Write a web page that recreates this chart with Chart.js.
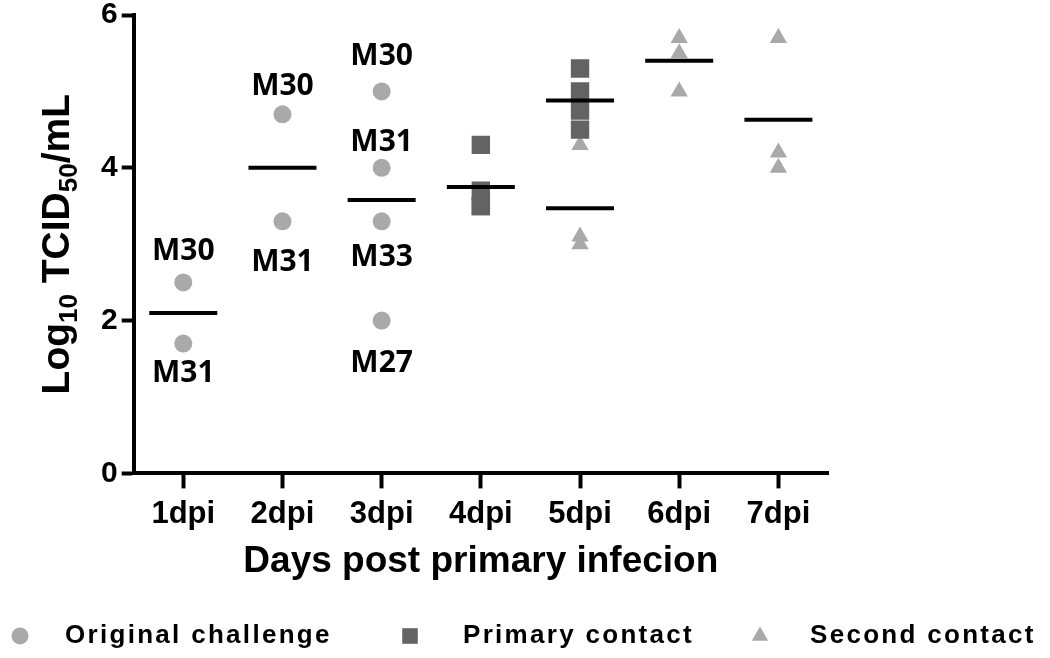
<!DOCTYPE html>
<html><head><meta charset="utf-8">
<script src="https://cdn.jsdelivr.net/npm/chart.js@4/dist/chart.umd.min.js"></script>
<style>html,body{margin:0;padding:0;background:#fff}#wrap{width:1050px;height:658px;position:relative}</style>
</head><body><div id="wrap"><canvas id="c"></canvas></div>
<script>
// ---- data ----
const categories = ['1dpi','2dpi','3dpi','4dpi','5dpi','6dpi','7dpi'];
const yTickValues = [0, 2, 4, 6];
const seriesNames = ['Original challenge', 'Primary contact', 'Second contact'];

const originalDays   = ['1dpi','1dpi','2dpi','2dpi','3dpi','3dpi','3dpi','3dpi'];
const originalValues = [2.5, 1.7, 4.7, 3.3, 5.0, 4.0, 3.3, 2.0];
const originalIds    = ['M30','M31','M30','M31','M30','M31','M33','M27'];

const primaryDays   = ['4dpi','4dpi','4dpi','4dpi','5dpi','5dpi','5dpi','5dpi'];
const primaryValues = [4.3, 3.7, 3.5, 3.5, 5.3, 5.0, 4.75, 4.5];

const secondDays   = ['5dpi','5dpi','5dpi','6dpi','6dpi','6dpi','7dpi','7dpi','7dpi'];
const secondValues = [4.3, 3.1, 3.0, 5.7, 5.5, 5.0, 5.7, 4.2, 4.0];

const meanDays   = ['1dpi','2dpi','3dpi','4dpi','5dpi','5dpi','6dpi','7dpi'];
const meanValues = [2.1, 4.0, 3.58, 3.75, 4.88, 3.47, 5.4, 4.63];

const xTitle = 'Days post primary infecion';

// ---- styling (not data) ----
const idLabelOffsets = [-31, 30, -28, 41, -35, -25, 36, 43];
const lightGrey = '#a9a9a9';
const darkGrey = '#636363';
const FONT = '"Liberation Sans", Arial, sans-serif';

function pts(days, vals) { return days.map((d, i) => ({x: d, y: vals[i]})); }

const datasets = [
  { label: 'mean', data: pts(meanDays, meanValues), pointStyle: 'line', pointRadius: 34,
    borderColor: '#000', backgroundColor: '#000', pointBorderWidth: 4, order: 0 },
  { label: seriesNames[0], data: pts(originalDays, originalValues), pointStyle: 'circle', pointRadius: 9,
    backgroundColor: lightGrey, borderColor: lightGrey, pointBorderWidth: 0, order: 1 },
  { label: seriesNames[1], data: pts(primaryDays, primaryValues), pointStyle: 'rect', pointRadius: 13,
    backgroundColor: darkGrey, borderColor: darkGrey, pointBorderWidth: 0, order: 2 },
  { label: seriesNames[2], data: pts(secondDays, secondValues), pointStyle: 'triangle', pointRadius: 10,
    backgroundColor: lightGrey, borderColor: lightGrey, pointBorderWidth: 0, order: 3 }
];

const idLabelPlugin = {
  id: 'idLabels',
  afterDatasetsDraw(chart) {
    const meta = chart.getDatasetMeta(1);
    const ctx = chart.ctx;
    ctx.save();
    ctx.fillStyle = '#000';
    ctx.font = 'bold 30px "Open Sans", sans-serif';
    ctx.textAlign = 'center';
    ctx.textBaseline = 'middle';
    meta.data.forEach((el, i) => {
      ctx.fillText(originalIds[i], el.x, el.y + idLabelOffsets[i]);
    });
    ctx.restore();
  }
};

const yTitlePlugin = {
  id: 'yTitle',
  afterDraw(chart) {
    const ctx = chart.ctx;
    const area = chart.chartArea;
    const parts = [
      {t: 'Log', sub: false}, {t: '10', sub: true}, {t: ' TCID', sub: false},
      {t: '50', sub: true}, {t: '/mL', sub: false}
    ];
    const big = 'bold 39px ' + FONT, small = 'bold 26px ' + FONT;
    ctx.save();
    let total = 0;
    parts.forEach(p => { ctx.font = p.sub ? small : big; p.w = ctx.measureText(p.t).width; total += p.w; });
    const cy = (area.top + area.bottom) / 2;
    ctx.translate(69, cy);
    ctx.rotate(-Math.PI / 2);
    ctx.fillStyle = '#000';
    ctx.textBaseline = 'alphabetic';
    ctx.textAlign = 'left';
    let x = -total / 2;
    parts.forEach(p => {
      ctx.font = p.sub ? small : big;
      ctx.fillText(p.t, x, p.sub ? 8 : 0);
      x += p.w;
    });
    ctx.restore();
  }
};

const legendMarkerX = [20, 410, 760];
const legendTextX = [65, 463, 810];
const legendPlugin = {
  id: 'bottomLegend',
  afterDraw(chart) {
    const ctx = chart.ctx;
    const y = 636;
    ctx.save();
    [1, 2, 3].forEach((di, k) => {
      const ds = chart.data.datasets[di];
      ctx.fillStyle = ds.backgroundColor;
      ctx.strokeStyle = ds.backgroundColor;
      const r = ds.pointStyle === 'rect' ? 11 : (ds.pointStyle === 'triangle' ? 9.5 : 8.5);
      Chart.helpers.drawPoint(ctx, {pointStyle: ds.pointStyle, radius: r, rotation: 0, borderWidth: 0}, legendMarkerX[k], y);
      ctx.fillStyle = '#000';
      ctx.font = 'bold 26px ' + FONT;
      ctx.letterSpacing = '2.3px';
      ctx.textAlign = 'left';
      ctx.textBaseline = 'middle';
      ctx.fillText(ds.label, legendTextX[k], y);
      ctx.letterSpacing = '0px';
    });
    ctx.restore();
  }
};

new Chart(document.getElementById('c'), {
  type: 'scatter',
  data: { labels: categories, datasets },
  plugins: [idLabelPlugin, yTitlePlugin, legendPlugin],
  options: {
    responsive: true,
    maintainAspectRatio: false,
    animation: false,
    events: [],
    layout: { autoPadding: false, padding: { left: 97, right: 222, top: 15, bottom: 70 } },
    plugins: { legend: { display: false }, tooltip: { enabled: false } },
    scales: {
      x: {
        type: 'category',
        labels: categories,
        offset: true,
        grid: { display: true, drawOnChartArea: false, drawTicks: true, tickLength: 15, tickWidth: 4, tickColor: '#000', offset: false },
        border: { display: true, width: 4, color: '#000' },
        ticks: { color: '#000', font: { family: FONT, size: 31, weight: 'bold' }, padding: 7 },
        title: { display: true, text: xTitle, color: '#000', font: { family: FONT, size: 37, weight: 'bold' }, padding: { top: 0, bottom: 4 } }
      },
      y: {
        min: 0, max: 6,
        afterBuildTicks(scale) { scale.ticks = yTickValues.map(v => ({ value: v })); },
        afterFit(scale) { scale.paddingTop = 0; scale.paddingBottom = 0; },
        grid: { display: true, drawOnChartArea: false, drawTicks: true, tickLength: 12, tickWidth: 4, tickColor: '#000' },
        border: { display: true, width: 4, color: '#000' },
        ticks: { color: '#000', font: { family: FONT, size: 30, weight: 'bold', lineHeight: 1 }, padding: 4 }
      }
    }
  }
});
</script></body></html>
